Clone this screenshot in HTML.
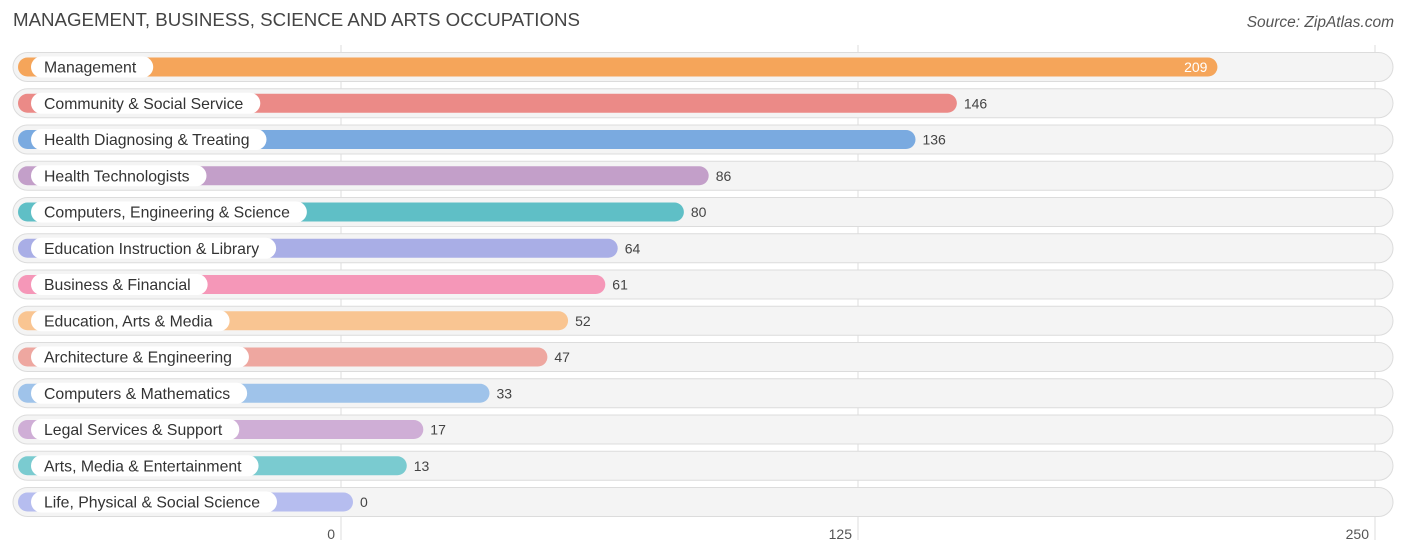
<!DOCTYPE html>
<html><head><meta charset="utf-8"><style>
body{margin:0;width:1406px;height:558px;background:#fff;font-family:"Liberation Sans",sans-serif;overflow:hidden;position:relative}
.t{position:absolute;left:13px;top:9px;font-size:18.7px;color:#444}
.s{position:absolute;right:12px;top:14px;font-size:15.5px;color:#555;font-style:italic}
</style></head><body>
<div class="t">MANAGEMENT, BUSINESS, SCIENCE AND ARTS OCCUPATIONS</div>
<div class="s">Source: ZipAtlas.com</div>
<svg id="c" width="1406" height="558" style="position:absolute;left:0;top:0"></svg>
<script>
const categories=["Management","Community & Social Service","Health Diagnosing & Treating","Health Technologists","Computers, Engineering & Science","Education Instruction & Library","Business & Financial","Education, Arts & Media","Architecture & Engineering","Computers & Mathematics","Legal Services & Support","Arts, Media & Entertainment","Life, Physical & Social Science"];
const values=[209,146,136,86,80,64,61,52,47,33,17,13,0];
const tickLabels=[0,125,250];
const colors=["#f5a55a","#eb8a87","#7aaae0","#c39fc9","#5fbfc6","#a9aee6","#f597b8","#f9c592","#eea7a0","#9fc3ea","#cfaed6","#7acbd0","#b6bdef"];
const NS="http://www.w3.org/2000/svg";
const svg=document.getElementById('c');
const x=v=>341+v*(517/125);
const y=i=>67+i*36.25;
function mk(t,a,p){const e=document.createElementNS(NS,t);for(const k in a)e.setAttribute(k,a[k]);(p||svg).appendChild(e);return e;}
tickLabels.forEach(t=>{
 const l=mk('line',{x1:x(t),x2:x(t),y1:45,y2:540,stroke:'#ddd','stroke-width':1});
 
 
 const tx=mk('text',{x:x(t)-6,y:539,'text-anchor':'end','font-size':14,fill:'#555'});
 tx.textContent=t;
 
 
});
categories.forEach((c,i)=>{
 const cy=y(i);
 const g=mk('g',{});
 
 
 mk('rect',{x:13,y:cy-14.5,width:1380,height:29,rx:14.5,fill:'#f4f4f4',stroke:'#dcdcdc','stroke-width':1},g);
 const w=x(values[i])+12-18;
 const b=mk('rect',{x:18,y:cy-9.5,width:w,height:19,rx:9.5,fill:colors[i]},g);
 
 
 const lt=mk('text',{x:44,y:cy+5.5,'font-size':15.8,fill:'#333'},g);
 lt.textContent=c;
 const tw=lt.getComputedTextLength();
 const p=mk('rect',{x:31,y:cy-10.5,width:tw+30,height:21,rx:10.5,fill:'#fff'},g);
 g.insertBefore(p,lt);
 
 
 const inside=i===0;
 const vt=mk('text',{x:inside?x(values[i])+2:x(values[i])+19,y:cy+5,'font-size':14,fill:inside?'#fff':'#444','text-anchor':inside?'end':'start'},g);
 vt.textContent=values[i];
 
 
});
</script>
</body></html>
